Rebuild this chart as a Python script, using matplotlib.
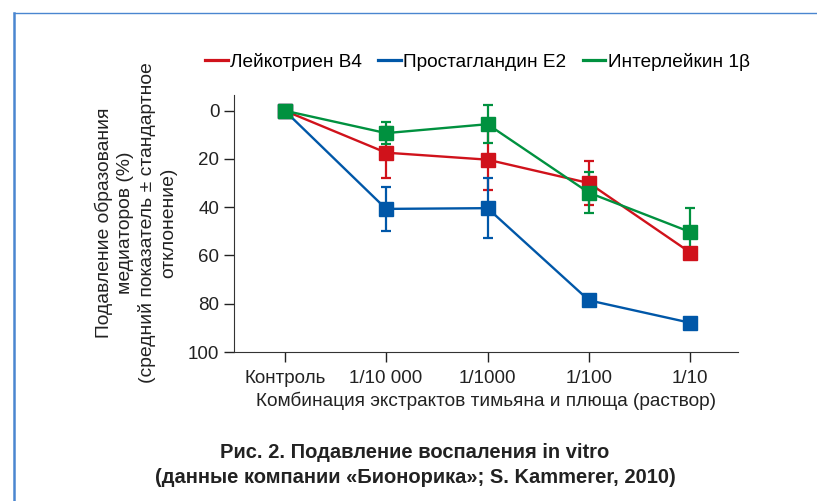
import matplotlib
matplotlib.use("Agg")
import matplotlib.pyplot as plt
from matplotlib.lines import Line2D

plt.rcParams['font.family'] = ['Liberation Sans Narrow', 'Liberation Sans', 'DejaVu Sans']

# ---------------- DATA ----------------
categories = ["Контроль", "1/10 000", "1/1000", "1/100", "1/10"]

ltb4 = [0, 17.4, 20.3, 30.0, 58.8]
ltb4_err = [0, 10.5, 12.5, 9.2, 0]

pge2 = [0, 40.7, 40.4, 78.6, 87.9]
pge2_err = [0, 9.0, 12.5, 0, 0]

il1b = [0, 9.3, 5.6, 34.0, 50.3]
il1b_err = [0, 4.5, 8.0, 8.5, 9.8]

series_names = ["Лейкотриен B4", "Простагландин E2", "Интерлейкин 1β"]
colors = ["#d0121b", "#0057a8", "#00913f"]

# ---------------- FIGURE ----------------
fig = plt.figure(figsize=(8.17, 5.01), dpi=100)
ax = fig.add_axes([0.2864, 0.2974, 0.6169, 0.513])

x = list(range(len(categories)))
all_vals = [(ltb4, ltb4_err), (pge2, pge2_err), (il1b, il1b_err)]
handles = []
for (vals, err), name, c in zip(all_vals, series_names, colors):
    ax.errorbar(x, vals, yerr=err, color=c, lw=1.7, marker="s", ms=10.5,
                elinewidth=1.6, capsize=3.5, capthick=1.6)
    handles.append(Line2D([0], [0], color=c, lw=2.3))

ax.set_xlim(-0.5, 4.47)
ax.set_ylim(100, -6.5)
ax.set_yticks([0, 20, 40, 60, 80, 100])
ax.set_xticks(x)
ax.set_xticklabels(categories)
ax.tick_params(direction="out", length=7, width=1, labelsize=13.5, colors="#222222")
ax.tick_params(axis="x", pad=6)
for side in ["top", "right"]:
    ax.spines[side].set_visible(False)
for side in ["left", "bottom"]:
    ax.spines[side].set_color("#333333")

ax.set_xlabel("Комбинация экстрактов тимьяна и плюща (раствор)", fontsize=13.7,
              labelpad=3, color="#222222")

fig.text(0.166, 0.555,
         "Подавление образования\nмедиаторов (%)\n(средний показатель ± стандартное\nотклонение)",
         rotation=90, ha="center", va="center", fontsize=13.9, color="#222222",
         linespacing=1.3)

fig.legend(handles, series_names, loc="center left", bbox_to_anchor=(205 / 817, 1 - 62 / 501),
           ncol=3, frameon=False, fontsize=13.7, handlelength=1.2,
           handletextpad=0.12, columnspacing=0.85, borderpad=0, borderaxespad=0)

fig.text(0.508, 0.096, "Рис. 2. Подавление воспаления in vitro", ha="center",
         va="center", fontsize=14.5, fontweight="bold", color="#222222")
fig.text(0.508, 0.046, "(данные компании «Бионорика»; S. Kammerer, 2010)",
         ha="center", va="center", fontsize=14.5, fontweight="bold", color="#222222")

# frame lines (top and left)
fig.add_artist(Line2D([14 / 817, 1], [1 - 13 / 501, 1 - 13 / 501],
                      transform=fig.transFigure, color="#4a86d0", lw=1))
fig.add_artist(Line2D([14 / 817, 14 / 817], [0, 1 - 13 / 501],
                      transform=fig.transFigure, color="#4a86d0", lw=1.8))

fig.savefig("out.png", dpi=100)
